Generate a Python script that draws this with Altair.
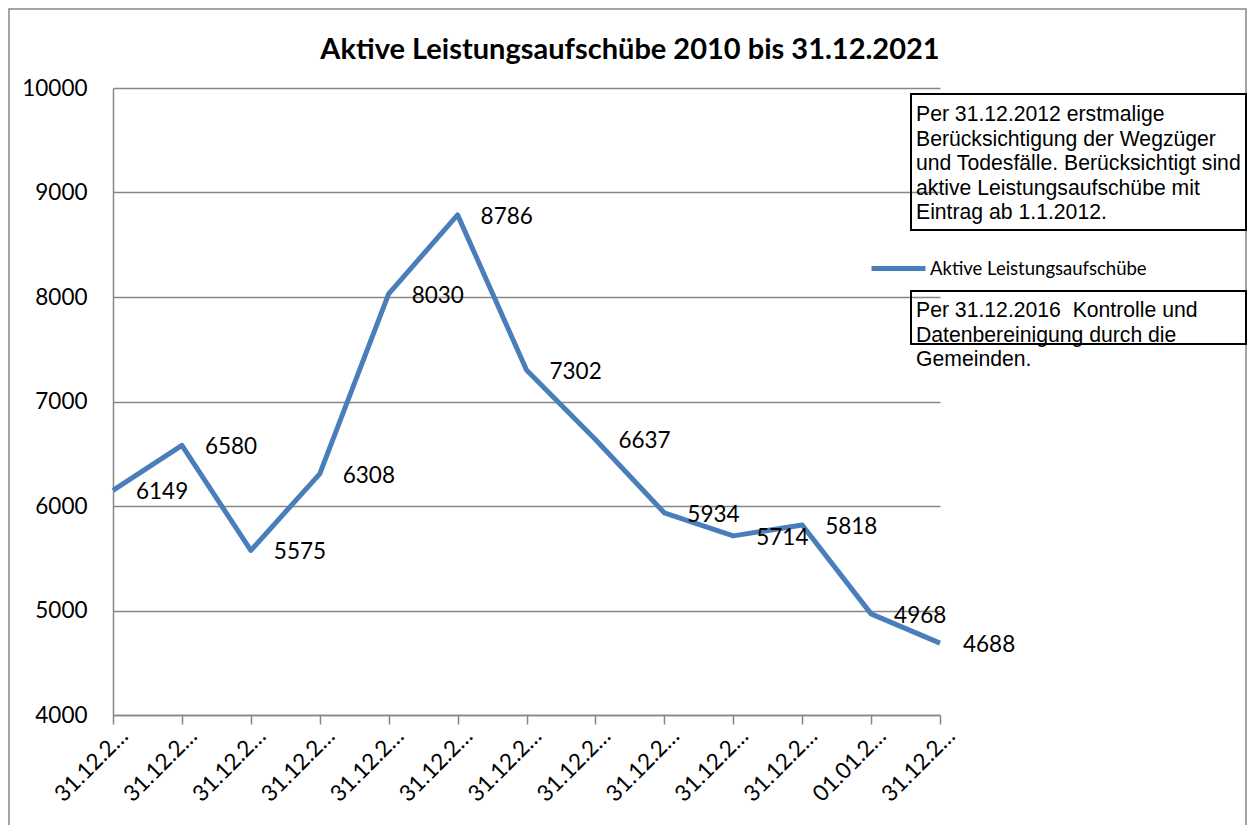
import altair as alt
import pandas as pd

dates = ["31.12.2010", "31.12.2011", "31.12.2012", "31.12.2013", "31.12.2014",
         "31.12.2015", "31.12.2016", "31.12.2017", "31.12.2018", "31.12.2019",
         "31.12.2020", "01.01.2021", "31.12.2021"]
values = [6149, 6580, 5575, 6308, 8030, 8786, 7302, 6637, 5934, 5714, 5818, 4968, 4688]
series = "Aktive Leistungsaufschübe"
y_ticks = [4000, 5000, 6000, 7000, 8000, 9000, 10000]
title_text = "Aktive Leistungsaufschübe 2010 bis 31.12.2021"
note1 = ["Per 31.12.2012 erstmalige",
         "Berücksichtigung der Wegzüger",
         "und Todesfälle. Berücksichtigt sind",
         "aktive Leistungsaufschübe mit",
         "Eintrag ab 1.1.2012."]
note2 = ["Per 31.12.2016\u00a0 Kontrolle und",
         "Datenbereinigung durch die",
         "Gemeinden."]

df = pd.DataFrame({"date": dates, "value": values, "series": series})
one = pd.DataFrame({"a": [0]})

GRID = "#878787"
BLUE = "#4a7ebb"
FONT = "Lato"

x_enc = alt.X("date:N", sort=dates, title=None,
              scale=alt.Scale(type="point", padding=0),
              axis=alt.Axis(labelAngle=-45, labelAlign="right", labelBaseline="middle",
                            labelExpr="slice(datum.label, 0, 7) + '…'",
                            labelFont=FONT, labelFontSize=22.5, labelColor="black",
                            tickSize=9, tickColor=GRID, tickWidth=1.5,
                            domainColor=GRID, domainWidth=1.5,
                            labelPadding=8, labelOffset=11, grid=False))
y_enc = alt.Y("value:Q", title=None,
              scale=alt.Scale(domain=[4000, 10000], nice=False, zero=False),
              axis=alt.Axis(values=y_ticks, format="d", tickSize=0, labelPadding=26,
                            labelFont=FONT, labelFontSize=22.5, labelColor="black",
                            gridColor=GRID, gridWidth=1.5,
                            domainColor=GRID, domainWidth=1.5))

base = alt.Chart(df)
line = base.mark_line(strokeWidth=5, strokeJoin="round").encode(
    x=x_enc, y=y_enc,
    color=alt.Color("series:N", scale=alt.Scale(range=[BLUE]),
                    legend=alt.Legend(orient="none", legendX=756, legendY=151, title=None,
                                      symbolType="stroke", symbolSize=2916,
                                      symbolStrokeWidth=5, labelFont=FONT,
                                      labelFontSize=18.5, labelColor="black",
                                      labelLimit=400, labelOffset=2, padding=0))
)
labels = base.mark_text(align="left", baseline="middle", dx=23, dy=2,
                        font=FONT, fontSize=22.5, color="black").encode(
    x=alt.X("date:N", sort=dates), y="value:Q", text="value:Q")

border = alt.Chart(one).mark_rect(fill="transparent", stroke=GRID, strokeWidth=1.5).encode(
    x=alt.value(-104), x2=alt.value(1133), y=alt.value(-79), y2=alt.value(780))
title = alt.Chart(one).mark_text(align="center", baseline="alphabetic", font=FONT,
                                 fontSize=29, fontWeight="bold", color="black").encode(
    x=alt.value(517), y=alt.value(-29), text=alt.value(title_text))
box1 = alt.Chart(one).mark_rect(fill="transparent", stroke="black", strokeWidth=2).encode(
    x=alt.value(798), x2=alt.value(1133), y=alt.value(6), y2=alt.value(142))
box2 = alt.Chart(one).mark_rect(fill="transparent", stroke="black", strokeWidth=2).encode(
    x=alt.value(798), x2=alt.value(1133), y=alt.value(203), y2=alt.value(256))
text1 = alt.Chart(one).mark_text(align="left", baseline="top", font="Liberation Sans",
                                 fontSize=21.2, lineHeight=24.5, color="black").encode(
    x=alt.value(803), y=alt.value(16), text=alt.value(note1))
text2 = alt.Chart(one).mark_text(align="left", baseline="top", font="Liberation Sans",
                                 fontSize=21.2, lineHeight=24.5, color="black").encode(
    x=alt.value(803), y=alt.value(212), text=alt.value(note2))

chart = alt.layer(border, title, line, labels, box1, box2, text1, text2).properties(
    width=827, height=627,
    autosize=alt.AutoSizeParams(type="none"),
    padding={"left": 105, "top": 80, "right": 308, "bottom": 110},
).configure_view(strokeWidth=0)

chart.save("out.html", embed_options={"renderer": "svg", "actions": False})
